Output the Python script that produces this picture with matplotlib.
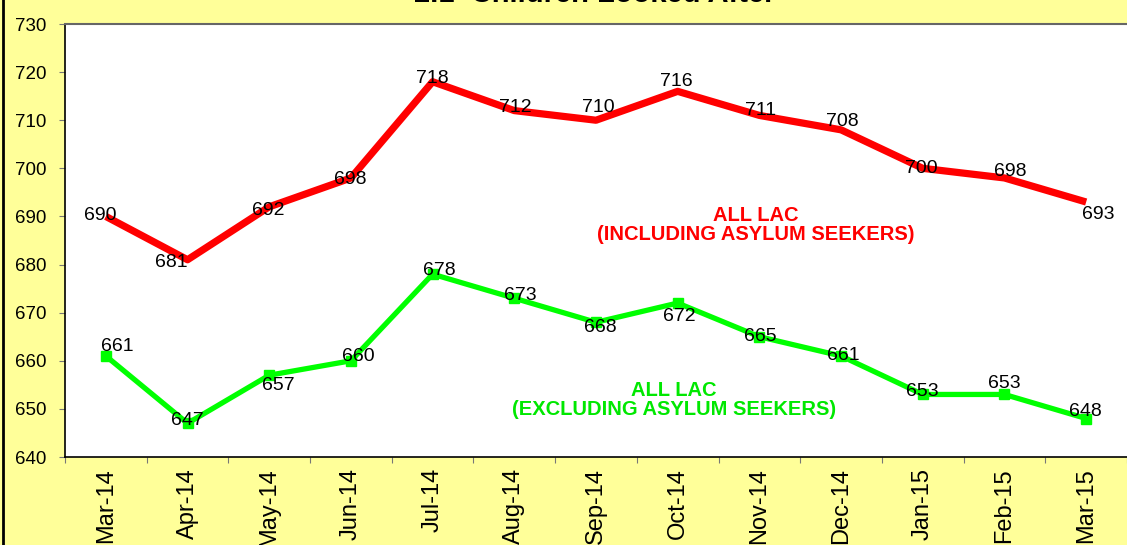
import matplotlib.pyplot as plt
from matplotlib.lines import Line2D

plt.rcParams['font.family'] = ['Liberation Sans', 'DejaVu Sans']

months = ["Mar-14", "Apr-14", "May-14", "Jun-14", "Jul-14", "Aug-14", "Sep-14",
          "Oct-14", "Nov-14", "Dec-14", "Jan-15", "Feb-15", "Mar-15"]
all_lac = [690, 681, 692, 698, 718, 712, 710, 716, 711, 708, 700, 698, 693]
excl_asylum = [661, 647, 657, 660, 678, 673, 668, 672, 665, 661, 653, 653, 648]

# label nudges in pixels (dx, dy) so the numbers sit like the original
red_off = [(-6, 1), (-16, -3), (-1, -4), (-1, -2), (0, 3), (1, 3), (2, 13), (-1, 10),
           (1, 5), (1, 8), (-1, 0), (6, 6), (12, -12)]
green_off = [(11, 9), (0, 3), (9, -10), (7, 4), (7, 4), (6, 3), (4, -5), (2, -13),
             (1, 0), (2, 0), (0, 3), (0, 11), (-1, 7)]

bg = "#FFFF99"
fig = plt.figure(figsize=(11.27, 5.45), dpi=100, facecolor=bg)
ax = fig.add_axes([65 / 1127, 1 - 457 / 545, 1 - 65 / 1127, (457 - 24) / 545])
ax.set_facecolor("white")

xs = list(range(len(months)))
ax.plot(xs, all_lac, color="#FF0000", lw=5.2, solid_capstyle="butt", zorder=3)
ax.plot(xs, excl_asylum, color="#00FF00", lw=3.8, marker="s", markersize=6.5,
        zorder=3)

for x, v, (dx, dy) in zip(xs, all_lac, red_off):
    ax.annotate(str(v), (x, v), xytext=(dx * 0.72, dy * 0.72), textcoords="offset points",
                ha="center", va="center", fontsize=14, color="black", zorder=4)
for x, v, (dx, dy) in zip(xs, excl_asylum, green_off):
    ax.annotate(str(v), (x, v), xytext=(dx * 0.72, dy * 0.72), textcoords="offset points",
                ha="center", va="center", fontsize=14, color="black", zorder=4)

ax.text(7.95, 688.3, "ALL LAC\n(INCLUDING ASYLUM SEEKERS)", color="#FF0000",
        fontsize=14.5, fontweight="bold", ha="center", va="center", linespacing=1.0)
ax.text(6.95, 651.9, "ALL LAC\n(EXCLUDING ASYLUM SEEKERS)", color="#00E800",
        fontsize=14.5, fontweight="bold", ha="center", va="center", linespacing=1.0)

ax.set_xlim(-0.5, len(months) - 0.5)
ax.set_ylim(640, 730)
ax.set_yticks(range(640, 731, 10))
ax.tick_params(axis="y", labelsize=13.5, direction="out", length=4.5, color="#777777",
               pad=9)
ax.set_xticks([i - 0.5 for i in range(len(months) + 1)])
ax.set_xticklabels([])
ax.set_xticks(xs, minor=True)
ax.set_xticklabels(months, minor=True, rotation=90, fontsize=17)
ax.tick_params(axis="x", which="major", direction="out", length=4.5, color="#777777")
ax.tick_params(axis="x", which="minor", length=0, pad=8)

for side in ["left", "bottom"]:
    ax.spines[side].set_color("black")
    ax.spines[side].set_linewidth(1.2)
ax.spines["top"].set_color("#666666")
ax.spines["top"].set_linewidth(1.5)
ax.spines["right"].set_visible(False)

fig.text(595 / 1127, 1 - 2 / 545, "2.1  Children Looked After", ha="center",
         va="baseline", fontsize=21, fontweight="bold")
fig.add_artist(Line2D([3 / 1127, 3 / 1127], [0, 1], color="black", lw=2,
                      transform=fig.transFigure))

fig.savefig("out.png", dpi=100, facecolor=bg)
